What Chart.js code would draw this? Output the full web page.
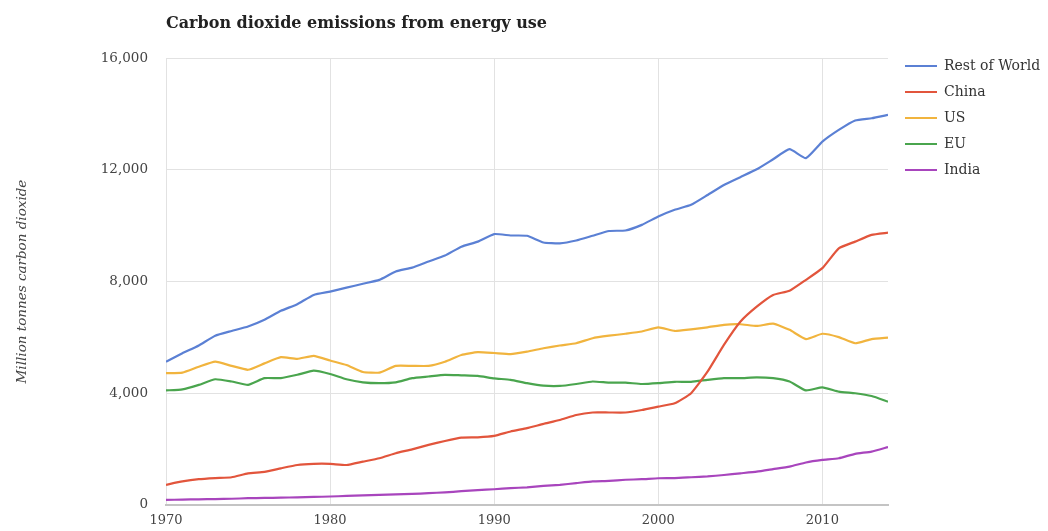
<!DOCTYPE html>
<html>
<head>
<meta charset="utf-8">
<title>Carbon dioxide emissions from energy use</title>
<script src="https://cdn.jsdelivr.net/npm/chart.js@4/dist/chart.umd.min.js"></script>
<style>
  html, body { margin: 0; padding: 0; background: #fff; }
  #wrap { width: 1048px; height: 531px; position: relative; }
</style>
</head>
<body>
<div id="wrap"><canvas id="co2Chart"></canvas></div>
<script>
// Years on the x axis
const years = [1970, 1971, 1972, 1973, 1974, 1975, 1976, 1977, 1978, 1979,
  1980, 1981, 1982, 1983, 1984, 1985, 1986, 1987, 1988, 1989,
  1990, 1991, 1992, 1993, 1994, 1995, 1996, 1997, 1998, 1999,
  2000, 2001, 2002, 2003, 2004, 2005, 2006, 2007, 2008, 2009,
  2010, 2011, 2012, 2013, 2014];

// Million tonnes CO2
const restOfWorld = [5130, 5430, 5710, 6060, 6230, 6390, 6630, 6950, 7190, 7520,
  7640, 7780, 7920, 8060, 8360, 8500, 8720, 8930, 9250, 9430,
  9700, 9650, 9640, 9400, 9370, 9470, 9640, 9810, 9830, 10030,
  10330, 10570, 10750, 11100, 11460, 11740, 12020, 12380, 12740, 12420,
  13010, 13430, 13770, 13850, 13970];
const china = [720, 840, 920, 960, 990, 1130, 1180, 1310, 1430, 1470,
  1470, 1430, 1550, 1670, 1850, 1990, 2150, 2290, 2410, 2420,
  2470, 2630, 2750, 2900, 3040, 3220, 3310, 3310, 3310, 3400,
  3520, 3640, 4000, 4770, 5730, 6560, 7100, 7520, 7670, 8060,
  8480, 9190, 9430, 9670, 9750];
const us = [4720, 4740, 4950, 5130, 4980, 4840, 5070, 5290, 5230, 5340,
  5170, 5010, 4760, 4740, 4980, 4980, 4980, 5130, 5370, 5470,
  5440, 5400, 5490, 5610, 5710, 5790, 5970, 6060, 6130, 6210,
  6360, 6230, 6290, 6360, 6450, 6470, 6410, 6490, 6270, 5940,
  6130, 6010, 5790, 5940, 5990];
const eu = [4100, 4140, 4300, 4500, 4420, 4300, 4540, 4540, 4660, 4810,
  4690, 4500, 4390, 4360, 4390, 4540, 4600, 4660, 4640, 4620,
  4530, 4480, 4360, 4270, 4260, 4330, 4420, 4380, 4380, 4330,
  4360, 4410, 4410, 4480, 4540, 4540, 4570, 4540, 4420, 4100,
  4210, 4060, 4000, 3900, 3700];
const india = [180, 190, 200, 210, 220, 240, 250, 260, 270, 285,
  300, 320, 340, 360, 375, 395, 420, 450, 490, 530,
  560, 600, 630, 680, 720, 780, 840, 860, 900, 920,
  955, 960, 990, 1020, 1070, 1130, 1190, 1280, 1370, 1520,
  1610, 1670, 1830, 1910, 2070];

const seriesNames = ["Rest of World", "China", "US", "EU", "India"];
const seriesValues = [restOfWorld, china, us, eu, india];
const seriesColors = ["#5b80d4", "#e2553c", "#f1b43e", "#4aa54e", "#a845bd"];
const yTicks = [0, 4000, 8000, 12000, 16000];

const serif = "'DejaVu Serif', 'Liberation Serif', serif";

// Legend drawn to the right of the plot, top aligned
const sideLegend = {
  id: "sideLegend",
  afterDraw(chart) {
    const ctx = chart.ctx;
    ctx.save();
    ctx.font = "14px " + serif;
    ctx.textBaseline = "middle";
    ctx.textAlign = "left";
    chart.data.datasets.forEach((ds, i) => {
      const y = 66 + i * 26;
      ctx.strokeStyle = ds.borderColor;
      ctx.lineWidth = 2;
      ctx.beginPath();
      ctx.moveTo(905, y);
      ctx.lineTo(937, y);
      ctx.stroke();
      ctx.fillStyle = "#333";
      ctx.fillText(ds.label, 944, y);
    });
    ctx.restore();
  },
};

new Chart(document.getElementById("co2Chart"), {
  type: "line",
  data: {
    datasets: seriesNames.map((name, i) => ({
      label: name,
      data: years.map((yr, j) => ({ x: yr, y: seriesValues[i][j] })),
      borderColor: seriesColors[i],
      backgroundColor: seriesColors[i],
      borderWidth: 2.2,
      pointRadius: 0,
      tension: 0.15,
      fill: false,
    })),
  },
  options: {
    responsive: true,
    maintainAspectRatio: false,
    animation: false,
    layout: { padding: { left: 0, right: 160, top: 0, bottom: 0 } },
    plugins: {
      legend: { display: false },
      tooltip: { enabled: false },
      title: {
        display: true,
        text: "Carbon dioxide emissions from energy use",
        align: "start",
        fullSize: false,
        color: "#222",
        font: { family: serif, size: 16, weight: "bold" },
        padding: { top: 14, bottom: 25 },
      },
    },
    scales: {
      x: {
        type: "linear",
        min: years[0],
        max: years[years.length - 1],
        afterBuildTicks: (scale) => {
          scale.ticks = scale.ticks.filter((t) => t.value % 10 === 0);
        },
        afterFit: (scale) => { scale.height = 26; },
        ticks: {
          stepSize: 10,
          padding: 8,
          color: "#444",
          font: { family: serif, size: 13 },
          callback: (v) => String(v),
        },
        grid: { color: "#e2e2e2", lineWidth: 1, drawTicks: false },
        border: { display: true, color: "#c4c4c4", width: 2 },
      },
      y: {
        min: yTicks[0],
        max: yTicks[yTicks.length - 1],
        afterBuildTicks: (scale) => {
          scale.ticks = yTicks.map((v) => ({ value: v }));
        },
        afterFit: (scale) => { scale.width = 166; },
        ticks: {
          padding: 18,
          color: "#444",
          font: { family: serif, size: 13.5 },
          callback: (v) => v.toLocaleString("en-US"),
        },
        grid: { color: "#e2e2e2", lineWidth: 1, drawTicks: false },
        border: { display: false },
        title: {
          display: true,
          text: "Million tonnes carbon dioxide",
          color: "#444",
          font: { family: serif, size: 13.5, style: "italic" },
          padding: { top: 14, bottom: 0 },
        },
      },
    },
  },
  plugins: [sideLegend],
});
</script>
</body>
</html>
